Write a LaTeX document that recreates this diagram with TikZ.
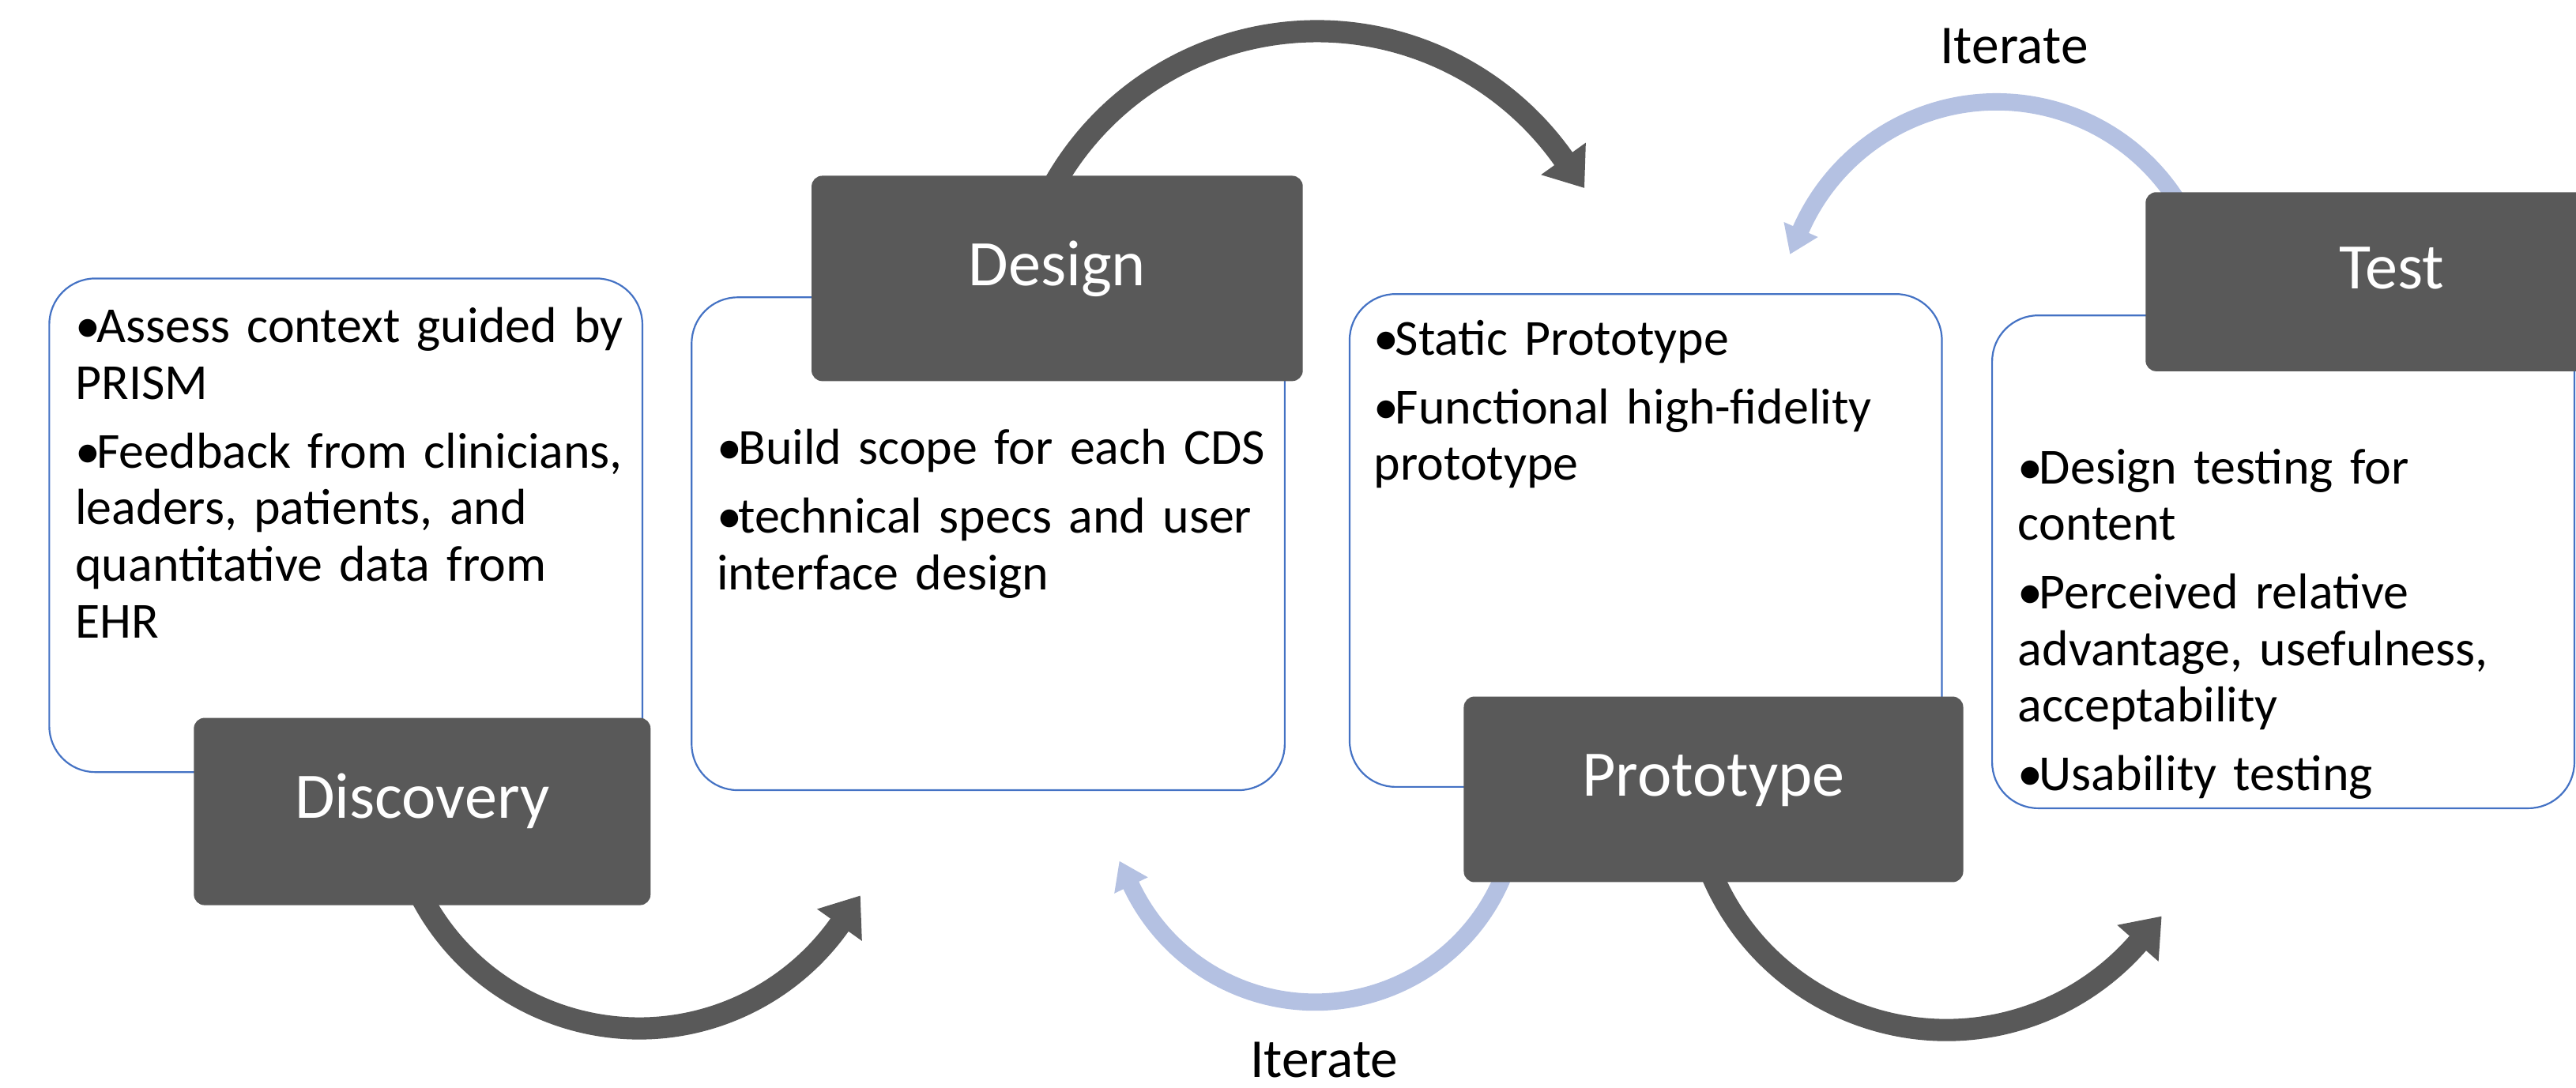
\documentclass[tikz,border=0pt]{standalone}
\usepackage{fontspec}
\setmainfont{Carlito}
\usetikzlibrary{fit,arrows.meta}
\definecolor{darkbox}{RGB}{89,89,89}
\definecolor{bluebord}{RGB}{68,114,196}
\definecolor{lightarr}{RGB}{180,193,226}
\newlength{\bw}\setlength{\bw}{7.4pt}
\newcommand{\bul}{\hangindent=\bw\hangafter=1\noindent\makebox[\bw][l]{\textbullet}}
\newcommand{\bgap}{\par\vspace{4.2pt}}
\begin{document}
\begin{tikzpicture}[x=0.2mm,y=-0.2mm,
  card/.style={draw=bluebord, line width=0.6pt, rounded corners=5.6mm, fill=white, inner sep=0pt},
  stage/.style={fill=darkbox, rounded corners=1.3mm, inner sep=0pt},
  title/.style={text=white, font=\fontsize{22.5}{27}\selectfont, anchor=mid},
  body/.style={anchor=base west, inner sep=0pt, text width=80mm, align=left, font=\fontsize{17.5}{19.6}\selectfont},
  darrow/.style={draw=darkbox, line width=2.7mm, -{Triangle[length=4.4mm,width=6.4mm]}},
  larrow/.style={draw=lightarr, line width=2.1mm, -{Triangle[length=3.3mm,width=4.3mm]}},
  iter/.style={font=\fontsize{19}{23}\selectfont, anchor=base, inner sep=0pt}
]
\useasboundingbox (0,0) rectangle (1568,662);
\clip (0,0) rectangle (1568,662);

% arrow start points (hidden under the stage boxes)
\coordinate (a0) at (253.33,539.57);
\coordinate (b0) at (640.85,113.69);
\coordinate (c0) at (1041.04,530.06);
\coordinate (d0) at (1325.9,123.25);
\coordinate (e0) at (915.28,532.58);

% curved arrows
\draw[darrow] (a0) arc[start angle=155, end angle=35.4, radius=149.7] -- ++(12.7,-17.9);
\draw[darrow] (b0) arc[start angle=-151, end angle=-35.6, radius=183.8] -- ++(13.4,18.7);
\draw[darrow] (c0) arc[start angle=158, end angle=41.4, radius=155] -- ++(14.8,-16.8);
\draw[larrow] (d0) arc[start angle=-32, end angle=-156.3, radius=130.3] -- ++(-6.55,14.9);
\draw[larrow] (e0) arc[start angle=22, end angle=154.3, radius=123.8] -- ++(-7.6,-15.8);

% white cards
\node[card, fit={(30,169.5) (391,470)}] (disccard) {};
\node[card, fit={(421,181) (782,481)}] (designcard) {};
\node[card, fit={(821.5,179) (1182,479)}] (protocard) {};
\node[card, fit={(1212.6,192) (1567,492)}] (testcard) {};

% dark stage boxes
\node[stage, fit={(118,437) (396,551)}] (discstage) {};
\node[stage, fit={(494,107) (793,232)}] (designstage) {};
\node[stage, fit={(891,424) (1195,537)}] (protostage) {};
\node[stage, fit={(1306,117) (1610,226)}] (teststage) {};

\node[title] (disctitle) at (discstage.center) {Discovery};
\node[title] (designtitle) at (designstage.center) {Design};
\node[title] (prototitle) at (protostage.center) {Prototype};
\node[title] (testtitle) at (1456,171.5) {Test};

% body texts
\node[body] (disctext) at (45.5,208.6) {\bul Assess context guided by\\PRISM\bgap\bul Feedback from clinicians,\\leaders, patients, and\\quantitative data from\\EHR};
\node[body] (designtext) at (436,282.7) {\bul Build scope for each CDS\bgap\bul technical specs and user\\interface design};
\node[body] (prototext) at (836,216) {\bul Static Prototype\bgap\bul Functional high-fidelity\\prototype};
\node[body] (testtext) at (1228,294.4) {\bul Design testing for\\content\bgap\bul Perceived relative\\advantage, usefulness,\\acceptability\bgap\bul Usability testing};

% iterate labels
\node[iter] (itertop) at (1226,38.5) {Iterate};
\node[iter] (iterbot) at (806,656) {Iterate};
\end{tikzpicture}
\end{document}
